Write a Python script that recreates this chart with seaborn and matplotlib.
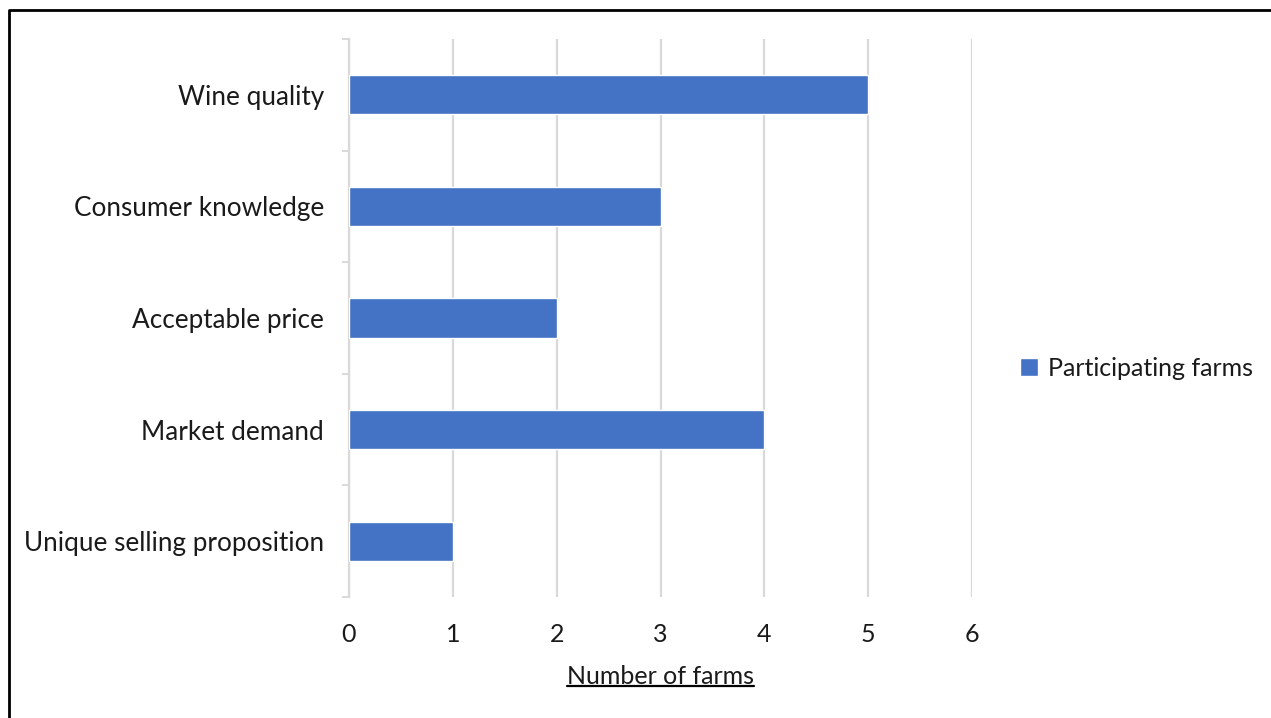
import matplotlib
matplotlib.use("Agg")
import matplotlib.pyplot as plt
from matplotlib.lines import Line2D
from matplotlib.ticker import FixedLocator
import seaborn as sns
import pandas as pd

categories = ["Wine quality", "Consumer knowledge", "Acceptable price",
              "Market demand", "Unique selling proposition"]
farms = [5, 3, 2, 4, 1]
x_ticks = [0, 1, 2, 3, 4, 5, 6]
series_name = "Participating farms"

sns.set_theme(style="white")
plt.rcParams["font.family"] = ["Lato", "DejaVu Sans"]

BAR = "#4472C4"
GRID = "#D9D9D9"
TEXT = "#1a1a1a"
FS = 18

df = pd.DataFrame({"factor": categories, "farms": farms})

fig = plt.figure(figsize=(12.71, 7.18), dpi=100)
ax = fig.add_axes([349 / 1271, 1 - 597 / 718, (972 - 349) / 1271, (597 - 39) / 718])

sns.barplot(data=df, x="farms", y="factor", orient="h", color=BAR,
            width=0.35, saturation=1, label=series_name, ax=ax, zorder=3)

ax.set_xlim(0, 6)
ax.set_ylim(4.5, -0.5)
ax.set_xticks(x_ticks)
ax.set_xticklabels([str(t) for t in x_ticks])
ax.xaxis.grid(True, color=GRID, linewidth=1.6, zorder=0)
ax.yaxis.grid(False)

for side in ("top", "right", "bottom"):
    ax.spines[side].set_visible(False)
ax.spines["left"].set_color(GRID)
ax.spines["left"].set_linewidth(1.6)

ax.tick_params(axis="x", length=0, pad=19, labelsize=FS, labelcolor=TEXT)
ax.tick_params(axis="y", which="major", length=0, pad=18, labelsize=18.8, labelcolor=TEXT)
ax.yaxis.set_minor_locator(FixedLocator([i - 0.5 for i in range(len(categories) + 1)]))
ax.tick_params(axis="y", which="minor", length=5, width=1.4, color=GRID, left=True)

ax.set_ylabel("")
ax.set_xlabel("")

xl = fig.text((349 + 972) / 2 / 1271, 1 - 676 / 718, "Number of farms",
              ha="center", va="center", fontsize=FS, color=TEXT)

leg = ax.legend(loc="center left", bbox_to_anchor=(998 / 1271, 1 - 368 / 718),
                bbox_transform=fig.transFigure, frameon=False, fontsize=FS,
                handlelength=0.7, handleheight=0.7, handletextpad=0.4)
for t in leg.get_texts():
    t.set_color(TEXT)

# underline beneath the axis title
fig.canvas.draw()
bb = xl.get_window_extent().transformed(fig.transFigure.inverted())
fig.add_artist(Line2D([bb.x0, bb.x1], [bb.y0 + 0.002, bb.y0 + 0.002],
                      transform=fig.transFigure, color="black", linewidth=1.6))

# outer frame of the chart area
fig.add_artist(Line2D([8.5 / 1271, 8.5 / 1271, 1.01], [-0.01, 1 - 9.5 / 718, 1 - 9.5 / 718],
                      transform=fig.transFigure, color="black", linewidth=2))

fig.savefig("out.png", dpi=100)
